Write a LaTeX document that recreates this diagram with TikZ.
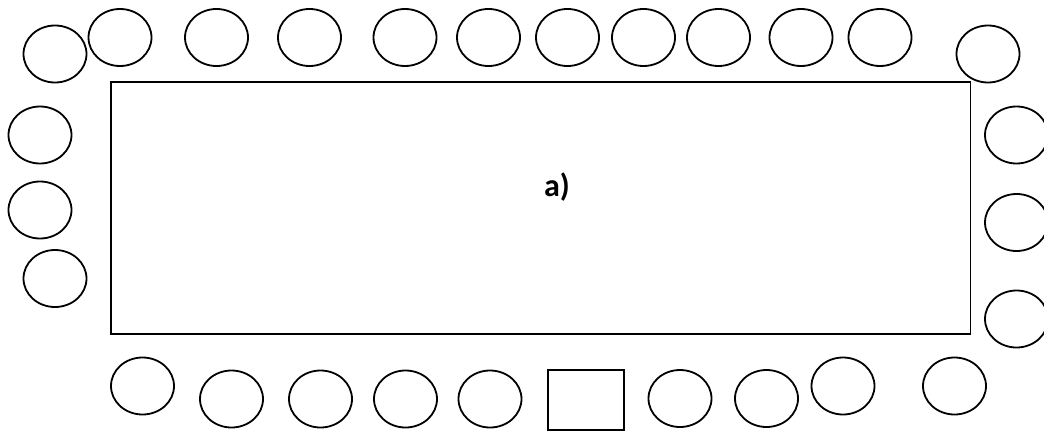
\documentclass[tikz,border=0pt]{standalone}
\usepackage{fontspec}
\setmainfont{Carlito}
\usetikzlibrary{shapes.geometric}
\tikzset{
  seat/.style={ellipse, draw=black, line width=1.8pt, minimum width=63pt, minimum height=57pt, inner sep=0pt},
  desk/.style={draw=black, line width=1.8pt, minimum width=76pt, minimum height=60pt, inner sep=0pt},
  table/.style={draw=black, line width=1.8pt}
}
\begin{document}
\begin{tikzpicture}[x=1pt, y=-1pt]
  \useasboundingbox (0,0) rectangle (1044,431);
  % conference table
  \coordinate (tl) at (111,82);
  \coordinate (br) at (970.5,334);
  \draw[table] (tl) rectangle (br);
  \node[font=\bfseries\fontsize{32}{36}\selectfont] (label) at (557,187) {a)};
  % seats along the top
  \node[seat] (t1)  at (55,54) {};
  \node[seat] (t2)  at (120,37.5) {};
  \node[seat] (t3)  at (216.5,37.5) {};
  \node[seat] (t4)  at (309.5,37.5) {};
  \node[seat] (t5)  at (405,37.5) {};
  \node[seat] (t6)  at (488.5,37.5) {};
  \node[seat] (t7)  at (567.5,37.5) {};
  \node[seat] (t8)  at (643.5,37.5) {};
  \node[seat] (t9)  at (718.5,37.5) {};
  \node[seat] (t10) at (801,37.5) {};
  \node[seat] (t11) at (880,37.5) {};
  \node[seat] (t12) at (988,54) {};
  % seats on the left side
  \node[seat] (l1) at (40,135) {};
  \node[seat] (l2) at (40,210) {};
  \node[seat] (l3) at (55,278.5) {};
  % seats on the right side
  \node[seat] (r1) at (1016.5,135) {};
  \node[seat] (r2) at (1016.5,222.5) {};
  \node[seat] (r3) at (1016.5,319) {};
  % seats along the bottom
  \node[seat] (b1) at (142.5,386) {};
  \node[seat] (b2) at (231.5,399) {};
  \node[seat] (b3) at (320.5,399) {};
  \node[seat] (b4) at (405.5,399) {};
  \node[seat] (b5) at (490,399) {};
  \node[desk] (sq) at (586,400) {};
  \node[seat] (b6) at (680,398.5) {};
  \node[seat] (b7) at (766.5,398.5) {};
  \node[seat] (b8) at (843,386) {};
  \node[seat] (b9) at (954.5,386) {};
\end{tikzpicture}
\end{document}
